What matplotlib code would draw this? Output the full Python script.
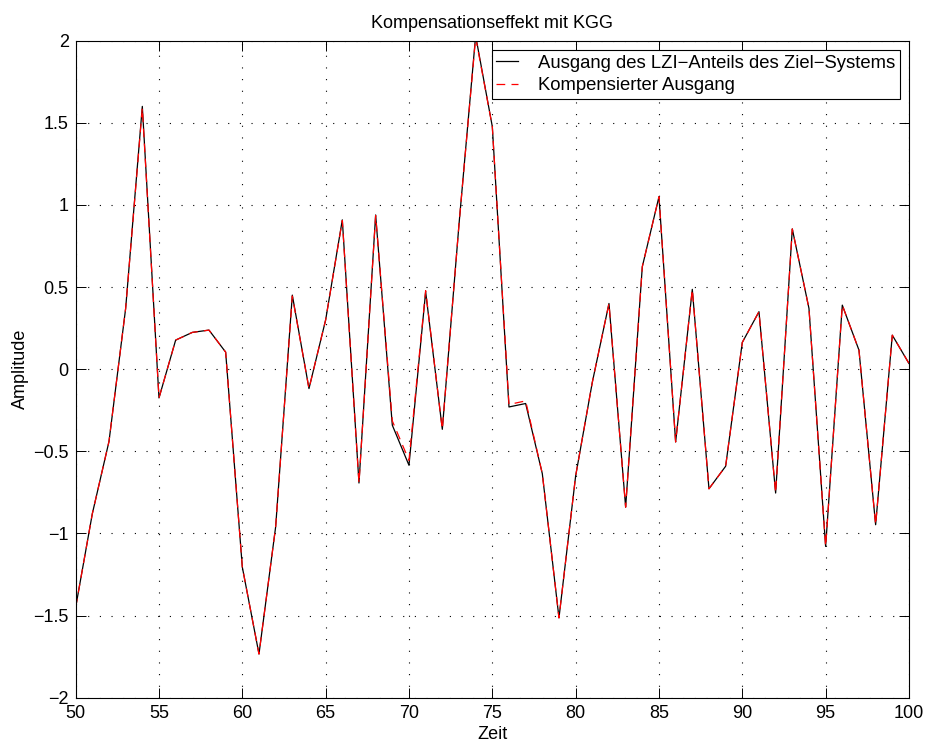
import matplotlib
matplotlib.use("Agg")
import matplotlib.pyplot as plt

plt.rcParams['font.family'] = ['Liberation Sans', 'DejaVu Sans']

# Zeitachse (Abtastschritte)
zeit = list(range(50, 101))

# Ausgang des LZI-Anteils des Ziel-Systems
ausgang_lzi = [
    -1.45, -0.88, -0.44, 0.37, 1.60, -0.175, 0.177, 0.224, 0.238, 0.104,
    -1.205, -1.734, -0.96, 0.451, -0.118, 0.30, 0.909, -0.693, 0.939, -0.341,
    -0.585, 0.471, -0.366, 0.88, 2.03, 1.477, -0.23, -0.209, -0.636, -1.514,
    -0.65, -0.08, 0.40, -0.84, 0.624, 1.05, -0.443, 0.486, -0.728, -0.591,
    0.163, 0.35, -0.754, 0.854, 0.37, -1.079, 0.39, 0.116, -0.947, 0.207,
    0.035,
]

# Kompensierter Ausgang
kompensiert = [
    -1.45, -0.88, -0.44, 0.37, 1.59, -0.175, 0.177, 0.224, 0.238, 0.104,
    -1.205, -1.734, -0.96, 0.445, -0.118, 0.30, 0.905, -0.693, 0.935, -0.315,
    -0.555, 0.478, -0.366, 0.88, 2.02, 1.477, -0.215, -0.193, -0.636, -1.514,
    -0.65, -0.08, 0.40, -0.84, 0.624, 1.05, -0.443, 0.486, -0.728, -0.591,
    0.163, 0.35, -0.754, 0.854, 0.37, -1.079, 0.39, 0.116, -0.947, 0.207,
    0.035,
]

x_ticks = [50, 55, 60, 65, 70, 75, 80, 85, 90, 95, 100]
y_ticks = [-2, -1.5, -1, -0.5, 0, 0.5, 1, 1.5, 2]
y_ticklabels = ['\u22122', '\u22121.5', '\u22121', '\u22120.5', '0', '0.5', '1', '1.5', '2']

FS = 13

fig = plt.figure(figsize=(9.26, 7.45), dpi=100)
ax = fig.add_axes([0.0817, 0.0635, 0.8999, 0.8819])
ax.set_axisbelow(True)

ax.plot(zeit, ausgang_lzi, color='black', linewidth=0.9,
        label='Ausgang des LZI\u2212Anteils des Ziel\u2212Systems')
ax.plot(zeit, kompensiert, color='red', linewidth=0.9, linestyle=(0, (7, 5)),
        label='Kompensierter Ausgang')

ax.set_xlim(50, 100)
ax.set_ylim(-2, 2)
ax.set_xticks(x_ticks)
ax.set_xticklabels([str(t) for t in x_ticks])
ax.set_yticks(y_ticks)
ax.set_yticklabels(y_ticklabels)

ax.grid(True, color='black', linestyle=(0, (1, 9.5)), linewidth=0.8)
ax.tick_params(direction='in', top=True, right=True, length=7, width=0.7,
               labelsize=FS, pad=5)
for sp in ax.spines.values():
    sp.set_linewidth(0.8)

ax.set_title('Kompensationseffekt mit KGG', fontsize=FS, pad=9)
ax.set_xlabel('Zeit', fontsize=FS, labelpad=3.5)
ax.set_ylabel('Amplitude', fontsize=FS, labelpad=3)

leg = ax.legend(loc='upper right', prop={'size': 13.3}, frameon=True,
                fancybox=False, edgecolor='black', framealpha=1,
                borderpad=0.25, handlelength=1.15, handletextpad=1.1,
                labelspacing=0.3, borderaxespad=0.5)
leg.get_frame().set_linewidth(0.8)

fig.savefig('out.png', dpi=100)
